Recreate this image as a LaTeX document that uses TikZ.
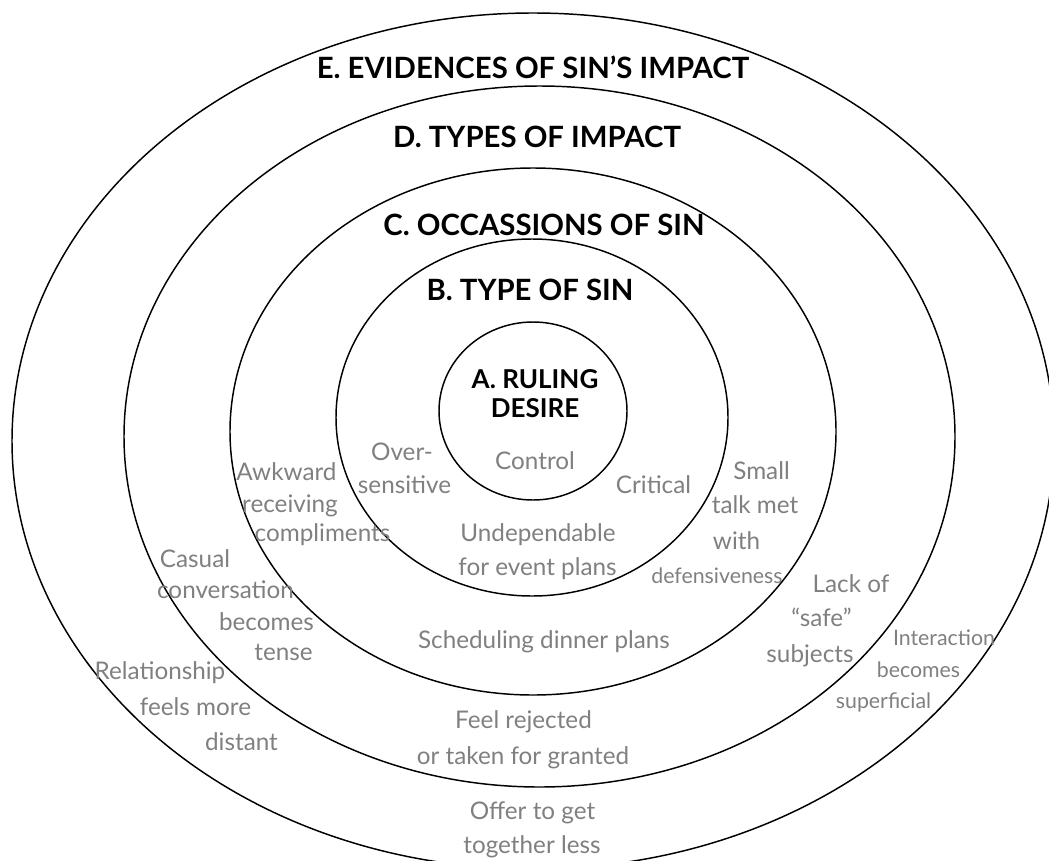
\documentclass[tikz,border=0pt]{standalone}
\usepackage{fontspec}
\setmainfont{Lato}
\definecolor{txtgray}{RGB}{128,128,128}
\tikzset{
  ring/.style={line width=1.1pt, draw=black},
  ttl/.style={anchor=base, inner sep=0pt, font=\fontsize{22}{22}\selectfont\bfseries, text=black},
  ttla/.style={anchor=base, inner sep=0pt, font=\fontsize{19.5}{19.5}\selectfont\bfseries, text=black},
  lbl/.style={anchor=base, inner sep=0pt, font=\fontsize{18.2}{18.2}\selectfont, text=txtgray},
  lbls/.style={anchor=base, inner sep=0pt, font=\fontsize{16}{16}\selectfont, text=txtgray},
}
\begin{document}
\begin{tikzpicture}[x=0.75pt,y=-0.75pt]
\useasboundingbox (0,0) rectangle (1049,860);
\clip (0,0) rectangle (1049,860);
\fill[white] (0,0) rectangle (1049,860);
% rings
\draw[ring] (533,441) ellipse [x radius=521, y radius=428];
\draw[ring] (539.5,436.5) ellipse [x radius=415.5, y radius=350.5];
\draw[ring] (533,431.5) ellipse [x radius=303, y radius=263.5];
\draw[ring] (532,417.5) ellipse [x radius=196, y radius=178.5];
\draw[ring] (533,411) ellipse [x radius=94, y radius=89];
% titles
\node[ttl] (tE) at (533,78) {E. EVIDENCES OF SIN’S IMPACT};
\node[ttl] (tD) at (537,147) {D. TYPES OF IMPACT};
\node[ttl] (tC) at (544,235) {C. OCCASSIONS OF SIN};
\node[ttl] (tB) at (530,300) {B. TYPE OF SIN};
\node[ttla] (tA1) at (535,388) {A. RULING};
\node[ttla] (tA2) at (535,417) {DESIRE};
% A
\node[lbl] (ctl) at (535,469) {Control};
% B
\node[lbl] (ov1) at (402,460) {Over-};
\node[lbl] (ov2) at (404.5,493) {sensitive};
\node[lbl] (cri) at (653.5,493) {Critical};
\node[lbl] (und1) at (538,541) {Undependable};
\node[lbl] (und2) at (537.5,575) {for event plans};
% C
\node[lbl] (aw1) at (286.5,480) {Awkward};
\node[lbl] (aw2) at (290,512) {receiving};
\node[lbl] (aw3) at (322.5,541) {compliments};
\node[lbl] (sm1) at (761.5,479) {Small};
\node[lbl] (sm2) at (755,513) {talk met};
\node[lbl] (sm3) at (736.5,549) {with};
\node[lbls] (sm4) at (717,583) {defensiveness};
\node[lbl] (sch) at (544,648) {Scheduling dinner plans};
% D
\node[lbl] (cas1) at (195,567) {Casual};
\node[lbl] (cas2) at (225.5,598) {conversation};
\node[lbl] (cas3) at (266.5,630) {becomes};
\node[lbl] (cas4) at (283.5,660) {tense};
\node[lbl] (lk1) at (851,592) {Lack of};
\node[lbl] (lk2) at (821.5,626) {“safe”};
\node[lbl] (lk3) at (810,662) {subjects};
\node[lbl] (fr1) at (523.5,728) {Feel rejected};
\node[lbl] (fr2) at (523,764) {or taken for granted};
% E
\node[lbl] (rl1) at (160,679) {Relationship};
\node[lbl] (rl2) at (195.5,715) {feels more};
\node[lbl] (rl3) at (241.5,750) {distant};
\node[lbls] (in1) at (944,645) {Interaction};
\node[lbls] (in2) at (918.5,677) {becomes};
\node[lbls] (in3) at (883.5,708) {superficial};
\node[lbl] (of1) at (532.5,819) {Offer to get};
\node[lbl] (of2) at (532,853) {together less};
\end{tikzpicture}
\end{document}
